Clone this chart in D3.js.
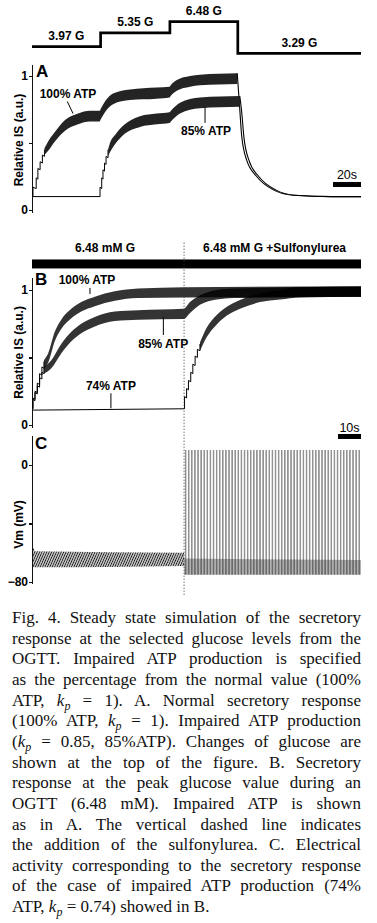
<!DOCTYPE html>
<html lang="en">
<head>
<meta charset="UTF-8">
<title>Fig. 4</title>
<script src="https://cdn.jsdelivr.net/npm/d3@7"></script>
<style>
    body { margin: 0; background: #fff; }
    svg text { font-family: "Liberation Sans", Arial, sans-serif; fill: #000; }
    .lbl { font-weight: bold; font-size: 12px; }
    .panel { font-weight: bold; font-size: 17px; }
    .axis path,
    .axis line {
        fill: none;
        stroke: #111;
        stroke-width: 1.2;
        shape-rendering: crispEdges;
    }
    .axis text {
        font-family: "Liberation Sans", Arial, sans-serif;
        font-weight: bold;
        font-size: 12px;
    }
    .caption text { font-family: "Liberation Serif", "Times New Roman", serif; font-size: 17px; fill: #111; }
</style>
</head>
<body>
<div id="output"></div>
<script>

// glucose protocol on top of A (s, mM)
var glucoseTimes = [0, 49, 98.5, 147, 235];
var glucoseLevels = [3.97, 5.35, 6.48, 3.29];
var glucoseLabels = ["3.97 G", "5.35 G", "6.48 G", "3.29 G"];

// A: relative IS, [t, value] lines and [t, low, high] oscillation envelopes
var a100Rise = [[0.7,0.10],[0.7,0.17],[3.0,0.16],[3.0,0.24],[4.2,0.23],[4.2,0.31],[5.8,0.30],[5.8,0.36],[7.4,0.35],[7.4,0.41],[8.9,0.40],[8.9,0.45]];
var a100Band = [[8.9,0.41,0.46],[11.4,0.44,0.51],[16.2,0.51,0.58],[23.4,0.59,0.67],[32.9,0.64,0.72],[41.4,0.66,0.74],[48.2,0.66,0.74],[49.3,0.68,0.76],[52.1,0.73,0.81],[57.9,0.79,0.87],[70,0.82,0.90],[89,0.83,0.915],[98.2,0.84,0.92],[99.3,0.855,0.935],[103.4,0.89,0.97],[112.9,0.92,1.0],[120,0.93,1.01],[146.6,0.94,1.02]];
var a100Decay = [[146.6,1.02],[148.1,0.80],[149.8,0.55],[153.4,0.37],[160.5,0.25],[172.4,0.15],[186.6,0.11],[213,0.10],[235,0.10]];

var a85Rise = [[0.7,0.10],[48.6,0.10],[48.6,0.17],[49.8,0.16],[49.8,0.24],[50.7,0.23],[50.7,0.30],[51.8,0.29],[51.8,0.35],[52.9,0.34],[52.9,0.40],[54.3,0.39],[54.3,0.45]];
var a85Band = [[54.3,0.40,0.45],[55.7,0.43,0.50],[59.3,0.49,0.56],[65.2,0.56,0.63],[77.1,0.62,0.70],[89.1,0.64,0.72],[98.2,0.65,0.73],[100,0.67,0.75],[105.7,0.72,0.80],[120,0.76,0.84],[148.4,0.77,0.85]];
var a85Decay = [[148.4,0.85],[149.6,0.75],[151.4,0.54],[155,0.37],[162,0.25],[174,0.15],[188,0.11],[215,0.10],[235,0.10]];

// B: 6.48 mM G, sulfonylurea added at tSulf
var tSulf = 66.1;
var barLabelsB = ["6.48 mM G", "6.48 mM G +Sulfonylurea"];
var b100Rise = [[0.4,0.12],[0.4,0.20],[1.3,0.19],[1.3,0.25],[2.3,0.24],[2.3,0.31],[3.3,0.30],[3.3,0.38],[4.3,0.37],[4.3,0.43],[5.2,0.42],[5.2,0.47]];
var b100Band = [[5.2,0.42,0.48],[7.0,0.46,0.53],[9.9,0.62,0.69],[12.7,0.71,0.78],[17.1,0.79,0.86],[21.4,0.84,0.91],[27.3,0.88,0.95],[36,0.92,0.99],[46.1,0.94,1.01],[66.1,0.945,1.02],[143,0.95,1.025]];
var b85Rise = [[0.4,0.12],[0.4,0.19],[1.3,0.18],[1.3,0.24],[2.3,0.23],[2.3,0.29],[3.3,0.28],[3.3,0.35],[4.3,0.34],[4.3,0.39],[5.2,0.38],[5.2,0.42]];
var b85Band = [[5.2,0.38,0.43],[8.4,0.42,0.48],[12.7,0.53,0.60],[17.1,0.62,0.69],[21.4,0.68,0.75],[27.3,0.73,0.80],[36,0.77,0.84],[46.1,0.78,0.85],[65.9,0.785,0.86],[68.7,0.83,0.91],[73,0.89,0.96],[80.3,0.93,1.0],[87.4,0.94,1.01],[143,0.95,1.025]];
var b74Rise = [[0.4,0.11],[66.3,0.12],[66.3,0.21],[67.2,0.20],[67.2,0.27],[68,0.26],[68,0.33],[69,0.32],[69,0.39],[69.9,0.38],[69.9,0.45],[70.9,0.44],[70.9,0.51],[71.9,0.50],[71.9,0.56],[73,0.55],[73,0.60]];
var b74Band = [[73,0.55,0.61],[75.9,0.65,0.72],[80.3,0.745,0.815],[84.7,0.81,0.876],[90.4,0.86,0.926],[99.1,0.91,0.976],[107.8,0.93,1.0],[116.5,0.945,1.02],[143,0.95,1.025]];

// C: membrane potential (mV), 74% ATP
var cBurst = [[0.4,-70,-56],[1.5,-70,-59],[66.1,-69,-60]];
var cSpikes = [[66.1,-75,10.3],[143,-75,10.3]];
var cTrough = [[66.1,-75,-64],[143,-75,-65]];

var captionLines = [
    "Fig. 4. Steady state simulation of the secretory",
    "response at the selected glucose levels from the",
    "OGTT. Impaired ATP production is specified",
    "as the percentage from the normal value (100%",
    "ATP, k_p = 1). A. Normal secretory response",
    "(100% ATP, k_p = 1). Impaired ATP production",
    "(k_p = 0.85, 85%ATP). Changes of glucose are",
    "shown at the top of the figure. B. Secretory",
    "response at the peak glucose value during an",
    "OGTT (6.48 mM). Impaired ATP is shown",
    "as in A. The vertical dashed line indicates",
    "the addition of the sulfonylurea. C. Electrical",
    "activity corresponding to the secretory response",
    "of the case of impaired ATP production (74%",
    "ATP, k_p = 0.74) showed in B."
];

var w = 377;
var h = 923;

var svg = d3.select("#output")
            .append("svg")
            .attr("width", w)
            .attr("height", h)
            .style("background-color", "#ffffff");

var xA = d3.scaleLinear().domain([0, 235]).range([32, 361]);
var xB = d3.scaleLinear().domain([0, 143]).range([32, 361]);
var yG = d3.scaleLinear().domain([3.29, 6.48]).range([53.3, 21.7]);
var yA = d3.scaleLinear().domain([-0.015, 1.085]).range([212, 64.6]);
var yB = d3.scaleLinear().domain([-0.015, 1.096]).range([427, 277]);
var yC = d3.scaleLinear().domain([-80.7, 20.5]).range([583, 435]);

/*
* hatch patterns standing in for the dense oscillations
* */
var defs = svg.append("defs");
function hatch(id, pw, sw, color, angle, ox, bg) {
    var p = defs.append("pattern")
            .attr("id", id)
            .attr("patternUnits", "userSpaceOnUse")
            .attr("width", pw)
            .attr("height", 12)
            .attr("patternTransform", "translate(" + (ox || 0) + ",0) rotate(" + angle + ")");
    if (bg) {
        p.append("rect").attr("x", -1).attr("y", -1)
                .attr("width", pw + 2).attr("height", 14).attr("fill", bg);
    }
    p.append("line")
            .attr("x1", pw / 2).attr("x2", pw / 2)
            .attr("y1", -2).attr("y2", 14)
            .attr("stroke", color)
            .attr("stroke-width", sw);
}
hatch("hA", 1.6, 0.25, "#fff", 14, 0, "#000");
hatch("hB", 2.0, 1.6, "#000", 14);
hatch("hC", 2.2, 1.15, "#1a1a1a", 24);
hatch("hSpike", 3.1, 0.8, "#2a2a2a", 0, xB(tSulf));
hatch("hTrough", 1.55, 0.9, "#777", 0, xB(tSulf));

function band(data, x, y, fill) {
    var area = d3.area()
            .x(function(d){ return x(d[0]); })
            .y0(function(d){ return y(d[1]); })
            .y1(function(d){ return y(d[2]); })
            .curve(d3.curveMonotoneX);
    svg.append("path").attr("d", area(data)).attr("fill", fill);
}

function trace(data, x, y, curve, sw) {
    var line = d3.line()
            .x(function(d){ return x(d[0]); })
            .y(function(d){ return y(d[1]); })
            .curve(curve);
    svg.append("path")
            .attr("d", line(data))
            .attr("fill", "none")
            .attr("stroke", "#000")
            .attr("stroke-width", sw);
}

function leader(x, y, t0, v0, t1, v1) {
    svg.append("line")
            .attr("x1", x(t0)).attr("y1", y(v0))
            .attr("x2", x(t1)).attr("y2", y(v1))
            .attr("stroke", "#000").attr("stroke-width", 1);
}

function label(txt, px, py, cls) {
    svg.append("text").attr("class", cls || "lbl")
            .attr("x", px).attr("y", py)
            .attr("text-anchor", "middle")
            .text(txt);
}

function yAxis(scale, vals, fmt) {
    svg.append("g")
            .attr("class", "axis")
            .attr("transform", "translate(" + xA(0) + ",0)")
            .call(d3.axisLeft(scale).tickValues(vals).tickFormat(fmt)
                    .tickSize(3).tickSizeOuter(0).tickPadding(1));
}

function yTitle(txt, cy) {
    svg.append("text").attr("class", "lbl")
            .attr("transform", "translate(23," + cy + ") rotate(-90)")
            .attr("text-anchor", "middle")
            .text(txt);
}

// glucose steps
var gPts = glucoseLevels.map(function(g, i){ return [glucoseTimes[i], g]; })
        .concat([[glucoseTimes[4], glucoseLevels[3]]]);
trace(gPts, xA, yG, d3.curveStepAfter, 2.7);
glucoseLevels.forEach(function(g, i){
    label(glucoseLabels[i], (xA(glucoseTimes[i]) + xA(glucoseTimes[i + 1])) / 2, yG(g) - 6.5);
});

// panel A
yAxis(yA, [0, 0.5, 1], function(d){ return d === 0.5 ? "" : d3.format("d")(d); });
yTitle("Relative IS (a.u.)", (yA(0) + yA(1)) / 2 - 3);
svg.append("text").attr("class", "panel").attr("x", 36).attr("y", 77).text("A");

trace(a100Rise, xA, yA, d3.curveLinear, 1);
band(a100Band, xA, yA, "url(#hA)");
trace(a100Decay, xA, yA, d3.curveMonotoneX, 1.1);
trace(a85Rise, xA, yA, d3.curveLinear, 1);
band(a85Band, xA, yA, "url(#hA)");
trace(a85Decay, xA, yA, d3.curveMonotoneX, 1.1);

label("100% ATP", xA(25.7), yA(0.838));
leader(xA, yA, 25.2, 0.81, 29.3, 0.72);
label("85% ATP", xA(124.3), yA(0.56));
leader(xA, yA, 123.6, 0.77, 123.6, 0.65);

// 20 s bar
svg.append("rect")
        .attr("x", xA(215)).attr("y", yA(0.209))
        .attr("width", xA(235) - xA(215)).attr("height", 5)
        .attr("fill", "#000");
svg.append("text").attr("x", xA(225)).attr("y", yA(0.209) - 3)
        .attr("text-anchor", "middle").style("font-size", "12.5px").text("20s");

// panel B
svg.append("rect")
        .attr("x", xB(0)).attr("y", yB(1.226))
        .attr("width", xB(143) - xB(0)).attr("height", 9)
        .attr("fill", "#000");
label(barLabelsB[0], (xB(0) + xB(tSulf)) / 2 - 3, yB(1.28));
label(barLabelsB[1], (xB(tSulf) + xB(143)) / 2 + 2, yB(1.28));

yAxis(yB, [0, 0.5, 1], function(d){ return d === 0.5 ? "" : d3.format("d")(d); });
yTitle("Relative IS (a.u.)", (yB(0) + yB(1)) / 2 - 5);
svg.append("text").attr("class", "panel").attr("x", 35).attr("y", 285).text("B");

trace(b100Rise, xB, yB, d3.curveLinear, 1);
band(b100Band, xB, yB, "url(#hB)");
trace(b85Rise, xB, yB, d3.curveLinear, 1);
band(b85Band, xB, yB, "url(#hB)");
trace(b74Rise, xB, yB, d3.curveLinear, 1);
band(b74Band, xB, yB, "url(#hB)");

label("100% ATP", xB(23.9), yB(1.044));
leader(xB, yB, 25.2, 1.015, 25.2, 0.97);
label("85% ATP", xB(57), yB(0.573));
leader(xB, yB, 57.1, 0.80, 57.1, 0.667);
label("74% ATP", xB(34.3), yB(0.26));
leader(xB, yB, 34.3, 0.235, 34.3, 0.124);

// panel C
yAxis(yC, [0, -40, -80], function(d){ return d === -40 ? "" : d3.format("d")(d); });
yTitle("Vm (mV)", yC(-40) + 1);
svg.append("text").attr("class", "panel").attr("x", 35).attr("y", 449).text("C");

band(cBurst, xB, yC, "url(#hC)");
band(cTrough, xB, yC, "url(#hTrough)");
band(cSpikes, xB, yC, "url(#hSpike)");

// 10 s bar
svg.append("rect")
        .attr("x", xB(133)).attr("y", yC(21.2))
        .attr("width", xB(143) - xB(133)).attr("height", 5)
        .attr("fill", "#000");
svg.append("text").attr("x", xB(138)).attr("y", yC(21.2) - 1.5)
        .attr("text-anchor", "middle").style("font-size", "12.5px").text("10s");

// sulfonylurea marker
svg.append("line")
        .attr("x1", xB(tSulf)).attr("x2", xB(tSulf))
        .attr("y1", yB(1.35)).attr("y2", yC(-89))
        .attr("stroke", "#333")
        .attr("stroke-width", 1)
        .attr("stroke-dasharray", "1,2");

/*
* caption, justified
* */
var cap = svg.append("g").attr("class", "caption");
var capLeft = 12, capRight = 361, capTop = 623, capStep = 20.65;

captionLines.forEach(function(str, i) {
    var t = cap.append("text").attr("x", capLeft).attr("y", capTop + i * capStep)
            .attr("xml:space", "preserve");
    var parts = str.split("k_p");
    parts.forEach(function(p, j) {
        if (j > 0) {
            t.append("tspan").style("font-style", "italic").text("k");
            t.append("tspan").style("font-style", "italic").style("font-size", "12px")
                    .attr("dy", 4).text("p");
            t.append("tspan").attr("dy", -4).text(p);
        } else {
            t.append("tspan").text(p);
        }
    });
    if (i < captionLines.length - 1) {
        var natural = t.node().getComputedTextLength();
        var spaces = (str.match(/ /g) || []).length;
        t.style("word-spacing", ((capRight - capLeft - natural) / spaces) + "px");
    }
});

</script>
</body>
</html>
